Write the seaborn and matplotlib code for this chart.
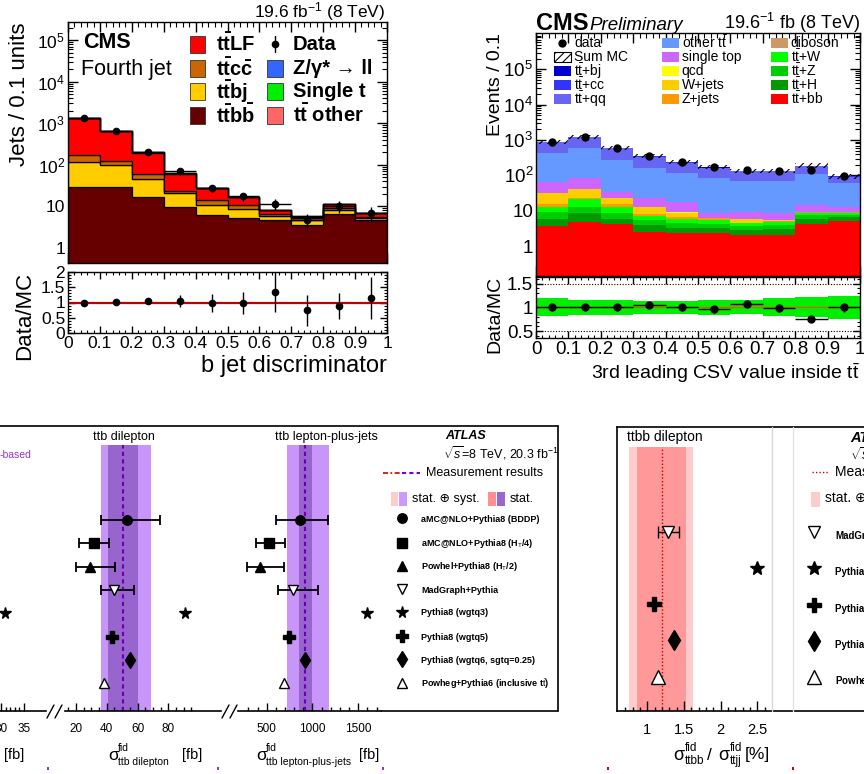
import numpy as np
import pandas as pd
import seaborn as sns
import matplotlib.pyplot as plt
from matplotlib.patches import Rectangle
from matplotlib.ticker import FixedLocator, MultipleLocator, LogLocator, NullFormatter

sns.set_theme(style="ticks")
plt.rcParams['font.family'] = ['Liberation Sans', 'DejaVu Sans']
plt.rcParams.update({
    'mathtext.fontset': 'custom',
    'mathtext.rm': 'Liberation Sans',
    'mathtext.it': 'Liberation Sans:italic',
    'mathtext.bf': 'Liberation Sans:bold',
    'axes.edgecolor': 'black', 'axes.linewidth': 1.0,
    'xtick.color': 'black', 'ytick.color': 'black',
    'text.color': 'black', 'axes.labelcolor': 'black',
    'hatch.linewidth': 0.8,
})

# ---- top left: CMS fourth jet, b jet discriminator ----
bin_edges = [0.0, 0.1, 0.2, 0.3, 0.4, 0.5, 0.6, 0.7, 0.8, 0.9, 1.0]
bin_centers = [0.05, 0.15, 0.25, 0.35, 0.45, 0.55, 0.65, 0.75, 0.85, 0.95]
bin_labels = ['0', '0.1', '0.2', '0.3', '0.4', '0.5', '0.6', '0.7', '0.8', '0.9', '1']

tl_ttbb = [29, 29, 17, 9.6, 6.2, 5.2, 4.6, 3.5, 6.5, 4.8]
tl_ttbj = [91, 68, 29, 11.4, 4.8, 3.6, 1.4, 1.3, 1.5, 0.4]
tl_ttcc = [50, 28, 15, 3.0, 3.5, 2.2, 0.7, 0.4, 1.1, 0.5]
tl_ttlf = [1140, 530, 137, 38, 12.8, 5.6, 1.5, 0.5, 2.3, 1.1]
tl_single_t = [6, 3, 1, 0.4, 0.2, 0.1, 0.05, 0.05, 0.1, 0.05]
tl_tt_other = [9, 4, 1.5, 0.6, 0.3, 0.2, 0.1, 0.05, 0.1, 0.05]
tl_data = [1320, 667, 205, 72, 27.5, 17.4, 11.6, 4.6, 10, 6.9]
tl_data_err = [36, 26, 14, 8.5, 5.2, 4.2, 3.4, 2.1, 3.2, 2.6]
tl_ratio = [0.97, 1.03, 1.04, 1.06, 0.99, 0.99, 1.34, 0.74, 0.88, 1.15]
tl_ratio_err = [0.03, 0.04, 0.06, 0.2, 0.3, 0.37, 0.65, 0.52, 0.42, 0.7]

# ---- top right: CMS preliminary, 3rd leading CSV ----
tr_ttbb = [3.8, 4.9, 4.2, 2.5, 2.4, 2.3, 2.0, 2.05, 4.2, 5.2]
tr_tth = [2.2, 3.5, 1.8, 1.4, 0.9, 0.9, 0.8, 0.95, 1.8, 1.6]
tr_ttz = [3.2, 4.6, 2.8, 1.5, 1.1, 1.0, 0.9, 0.9, 1.5, 0.7]
tr_ttw = [3.2, 8.0, 3.6, 1.6, 1.4, 1.2, 0.7, 1.0, 1.3, 1.3]
tr_diboson = [0.2, 0.3, 0.2, 0.1, 0.1, 0.1, 0.1, 0.1, 0.1, 0.1]
tr_zjets = [2.4, 1.7, 2.4, 0.9, 0.6, 0.6, 0.1, 0.2, 0.1, 0.05]
tr_wjets = [17, 18, 8, 4.4, 2.3, 0.2, 1.2, 0.2, 0.4, 0.2]
tr_qcd = [0.3, 0.3, 0.2, 0.1, 0.1, 0.05, 0.05, 0.05, 0.05, 0.05]
tr_single_top = [34, 45, 11, 10.6, 9.2, 2.5, 3.6, 3.0, 5.1, 3.9]
tr_other_tt = [354, 494, 236, 142, 102, 77, 60, 61, 95, 49]
tr_ttqq = [440, 605, 312, 169, 109, 76, 59.5, 59.5, 70, 28]
tr_ttcc = [25, 35, 18, 10, 7, 5, 4, 4, 6, 3]
tr_ttbj = [15, 20, 10, 6, 4, 3, 2.5, 2.5, 4, 2]
tr_data = [900, 1240, 600, 350, 245, 177, 142, 135, 142, 95]
tr_data_err = [30, 35, 24, 19, 16, 13, 12, 12, 12, 10]
tr_mc_unc = [0.13, 0.12, 0.12, 0.12, 0.13, 0.13, 0.13, 0.14, 0.15, 0.16]
tr_ratio = [1.0, 1.01, 1.01, 1.05, 1.0, 0.96, 1.07, 0.98, 0.76, 1.0]
tr_ratio_err = [0.02, 0.02, 0.03, 0.04, 0.04, 0.05, 0.07, 0.07, 0.06, 0.1]
tr_band = [0.19, 0.16, 0.16, 0.14, 0.14, 0.16, 0.15, 0.19, 0.21, 0.24]

# ---- bottom: ATLAS ttb comparisons ----
atlas_models = ["aMC@NLO+Pythia8 (BDDP)", r"aMC@NLO+Pythia8 (H$_{\rm T}$/4)",
                r"Powhel+Pythia8 (H$_{\rm T}$/2)", "MadGraph+Pythia", "Pythia8 (wgtq3)",
                "Pythia8 (wgtq5)", "Pythia8 (wgtq6, sgtq=0.25)",
                r"Powheg+Pythia6 (inclusive t$\bar{\rm t}$)"]
p1_star = 30.9
dil_pred = [52.9, 31.7, 29.1, 44.7, 90.8, 43.6, 55.1, 38.4]
dil_lo = [36.2, 22.0, 20.0, 36.2]
dil_hi = [74.5, 41.6, 45.5, 57.9]
dil_meas, dil_stat, dil_tot = 50.3, (40.6, 60.1), (36.2, 68.5)
lj_pred = [864, 529, 427, 791, 1592, 747, 918, 692]
lj_lo = [602, 383, 288, 620]
lj_hi = [1173, 700, 689, 1057]
lj_meas, lj_stat, lj_tot = 918, (856, 991), (718, 1184)
frac_models = ["MadGraph+Pythia", "Pythia8 (wgtq3)", "Pythia8 (wgtq5)",
               "Pythia8 (wgtq6, sgtq=0.25)", r"Powheg+Pythia6 (inclusive t$\bar{\rm t}$)"]
frac_pred = [1.287, 2.49, 1.096, 1.364, 1.15]
frac_lo = [1.15]
frac_hi = [1.437]
frac_meas, frac_stat, frac_tot = 1.196, (0.855, 1.528), (0.754, 1.628)

W, H = 864, 774
fig = plt.figure(figsize=(W / 100, H / 100), dpi=100)


def px_axes(l, t, r, b):
    return fig.add_axes([l / W, 1 - b / H, (r - l) / W, (b - t) / H])


def stack_df(order, vals):
    return pd.DataFrame({
        "x": np.tile(bin_centers, len(order)),
        "w": np.concatenate([vals[p] for p in order]),
        "proc": np.repeat(order, len(bin_centers)),
    })


def root_ticks(a, size):
    a.tick_params(which='both', direction='in', top=True, right=True)
    a.tick_params(which='major', length=7, width=1)
    a.tick_params(which='minor', length=3.5, width=0.8)
    a.tick_params(labelsize=size, pad=2)
    a.set_xlabel('')
    a.set_ylabel('')


decade_ticks = [1, 10, 100, 1e3, 1e4, 1e5]
decade_labels = ['1', '10', '$10^{2}$', '$10^{3}$', '$10^{4}$', '$10^{5}$']

# ---------------- top left ----------------
tl_order = ["tt other", "single t", "ttLF", "ttcc", "ttbj", "ttbb"]
tl_vals = {"tt other": tl_tt_other, "single t": tl_single_t, "ttLF": tl_ttlf,
           "ttcc": tl_ttcc, "ttbj": tl_ttbj, "ttbb": tl_ttbb}
tl_colors = {"tt other": "#ff6666", "single t": "#00ee00", "ttLF": "#ff0000",
             "ttcc": "#cc6600", "ttbj": "#ffcc00", "ttbb": "#660000"}

ax = px_axes(68, 22, 387, 263)
sns.histplot(data=stack_df(tl_order, tl_vals), x="x", weights="w", hue="proc",
             hue_order=tl_order, palette=tl_colors, multiple="stack", bins=bin_edges,
             element="step", fill=True, alpha=1, edgecolor="black", linewidth=0.9,
             legend=False, ax=ax)
ax.set_yscale("log")
ax.errorbar(bin_centers, tl_data, yerr=tl_data_err, xerr=0.05, fmt='o', color='black',
            ms=4.5, elinewidth=1, capsize=0, zorder=5)
ax.set_xlim(0, 1)
ax.set_ylim(0.436, 2.74e5)
ax.set_xticks(bin_edges)
ax.xaxis.set_minor_locator(MultipleLocator(0.02))
ax.set_yticks(decade_ticks)
ax.set_yticklabels(decade_labels)
ax.yaxis.set_minor_locator(LogLocator(base=10, subs=np.arange(2, 10) * 1.0, numticks=20))
ax.yaxis.set_minor_formatter(NullFormatter())
root_ticks(ax, 12.5)
ax.tick_params(labelbottom=False)

axr = px_axes(68, 272, 387, 333)
axr.axhline(1, color='#c00000', lw=1.6)
axr.errorbar(bin_centers, tl_ratio, yerr=tl_ratio_err, fmt='o', color='black',
             ms=4.5, elinewidth=1, capsize=0, zorder=5)
axr.set_xlim(0, 1)
axr.set_ylim(0, 2)
axr.set_xticks(bin_edges)
axr.set_xticklabels(bin_labels)
axr.xaxis.set_minor_locator(MultipleLocator(0.02))
axr.set_yticks([0, 0.5, 1, 1.5, 2])
axr.set_yticklabels(['0', '0.5', '1', '1.5', '2'])
axr.yaxis.set_minor_locator(MultipleLocator(0.1))
root_ticks(axr, 12.5)
axr.tick_params(which='major', length=5)
axr.tick_params(which='minor', length=2.5)

# ---------------- top right ----------------
tr_order = ["ttbj", "ttcc", "ttqq", "other tt", "single top", "qcd", "W+jets",
            "Z+jets", "diboson", "ttW", "ttZ", "ttH", "ttbb"]
tr_vals = {"ttbj": tr_ttbj, "ttcc": tr_ttcc, "ttqq": tr_ttqq, "other tt": tr_other_tt,
           "single top": tr_single_top, "qcd": tr_qcd, "W+jets": tr_wjets,
           "Z+jets": tr_zjets, "diboson": tr_diboson, "ttW": tr_ttw, "ttZ": tr_ttz,
           "ttH": tr_tth, "ttbb": tr_ttbb}
tr_colors = {"ttbj": "#0000cc", "ttcc": "#3333ff", "ttqq": "#6666f2",
             "other tt": "#6699ff", "single top": "#cc66ff", "qcd": "#ffff00",
             "W+jets": "#ffcc00", "Z+jets": "#ff9900", "diboson": "#cc9966",
             "ttW": "#00ff00", "ttZ": "#00cc00", "ttH": "#009900", "ttbb": "#ff0000"}

bx = px_axes(536, 33.3, 860, 276)
sns.histplot(data=stack_df(tr_order, tr_vals), x="x", weights="w", hue="proc",
             hue_order=tr_order, palette=tr_colors, multiple="stack", bins=bin_edges,
             element="step", fill=True, alpha=1, linewidth=0, legend=False, ax=bx)
bx.set_yscale("log")
tr_total = np.sum([tr_vals[p] for p in tr_order], axis=0)
unc = np.array(tr_mc_unc)
lo = np.append(tr_total * (1 - unc), tr_total[-1] * (1 - unc[-1]))
hi = np.append(tr_total * (1 + unc), tr_total[-1] * (1 + unc[-1]))
bx.fill_between(bin_edges, lo, hi, step='post', facecolor='none', edgecolor='black',
                hatch='////', linewidth=0, zorder=4)
bx.errorbar(bin_centers, tr_data, yerr=tr_data_err, fmt='o', color='black',
            ms=5, elinewidth=1, capsize=0, zorder=5)
bx.set_xlim(0, 1)
bx.set_ylim(0.1416, 1.05e6)
bx.set_xticks(bin_edges)
bx.xaxis.set_minor_locator(MultipleLocator(0.02))
bx.set_yticks(decade_ticks)
bx.set_yticklabels(decade_labels)
bx.yaxis.set_minor_locator(LogLocator(base=10, subs=np.arange(2, 10) * 1.0, numticks=20))
bx.yaxis.set_minor_formatter(NullFormatter())
root_ticks(bx, 13.5)
bx.tick_params(labelbottom=False)

bxr = px_axes(536, 276.5, 860, 338.3)
band = np.array(tr_band)
bxr.fill_between(bin_edges, np.append(1 - band, 1 - band[-1]), np.append(1 + band, 1 + band[-1]),
                 step='post', color='#00ee00', lw=0, zorder=1)
bxr.axhline(1, color='#cc6600', lw=1, zorder=2)
for yl in (0.5, 1.5):
    bxr.axhline(yl, color='black', ls=(0, (1, 1.5)), lw=0.8, zorder=2)
bxr.errorbar(bin_centers, tr_ratio, yerr=tr_ratio_err, xerr=0.05, fmt='o', color='black',
             ms=5, elinewidth=1, capsize=0, zorder=5)
bxr.set_xlim(0, 1)
bxr.set_ylim(0.346, 1.65)
bxr.set_xticks(bin_edges)
bxr.set_xticklabels(bin_labels)
bxr.xaxis.set_minor_locator(MultipleLocator(0.02))
bxr.set_yticks([0.5, 1, 1.5])
bxr.set_yticklabels(['0.5', '1', '1.5'])
bxr.yaxis.set_minor_locator(MultipleLocator(0.1))
root_ticks(bxr, 13.5)
bxr.tick_params(which='major', length=5)
bxr.tick_params(which='minor', length=2.5)

# ---------------- bottom: ATLAS panels ----------------
row_markers = ['o', 's', '^', 'v', '*', 'P', 'd', '^']
row_filled = [True, True, True, False, True, True, True, False]
row_ms = [6.8, 7.5, 7.5, 7.5, 8.5, 9.0, 8.0, 7.5]
frac_markers = ['v', '*', 'P', 'd', '^']
frac_filled = [False, True, True, True, False]
frac_ms = [9, 10, 10.5, 10, 9.5]


def put_marker(a, x, y, m, filled, ms, mew=1.0):
    a.plot([x], [y], marker=m, ms=ms, ls='none', mec='black', mew=mew,
           mfc='black' if filled else 'white', zorder=6)


def atlas_panel(l, t, r, b, xlim, ylim):
    a = px_axes(l, t, r, b)
    a.set_xlim(*xlim)
    a.set_ylim(*ylim)
    for s in ['top', 'left', 'right']:
        a.spines[s].set_visible(False)
    a.spines['bottom'].set_linewidth(1.2)
    a.set_yticks([])
    a.patch.set_alpha(0)
    return a


def atlas_ticks(a, majors, minors, labels, size, pad):
    a.xaxis.set_major_locator(FixedLocator(majors))
    a.xaxis.set_minor_locator(FixedLocator(minors))
    a.set_xticklabels(labels)
    a.tick_params(axis='x', which='both', direction='in', width=1, labelsize=size, pad=pad)
    a.tick_params(axis='x', which='major', length=6)
    a.tick_params(axis='x', which='minor', length=3)


def meas_band(a, tot, stat, meas, ymax, c_out, c_in, c_line, ls, lw):
    a.axvspan(tot[0], tot[1], ymax=ymax, color=c_out, lw=0, zorder=0)
    a.axvspan(stat[0], stat[1], ymax=ymax, color=c_in, lw=0, zorder=0.5)
    a.axvline(meas, ymax=ymax, color=c_line, ls=ls, lw=lw, zorder=1)


rows8 = list(range(8))
ylim8 = (8.19, -4.03)

p1 = atlas_panel(-60, 426, 46, 711, (16.74, 39.78), ylim8)
put_marker(p1, p1_star, 4, '*', True, 8.5)
atlas_ticks(p1, [30, 35], list(range(20, 36)), ['30', '35'], 8.5, 9)

p2 = atlas_panel(65, 426, 221, 711, (12.86, 114.16), ylim8)
meas_band(p2, dil_tot, dil_stat, dil_meas, 0.933, '#c896f8', '#9864cd', '#6a00b0', (0, (2, 1.6)), 1.5)
p2.errorbar(dil_pred[:4], rows8[:4],
            xerr=[np.subtract(dil_pred[:4], dil_lo), np.subtract(dil_hi, dil_pred[:4])],
            fmt='none', ecolor='black', elinewidth=1.3, capsize=3.5, capthick=1.3, zorder=4)
for v, r, m, f, s in zip(dil_pred, rows8, row_markers, row_filled, row_ms):
    put_marker(p2, v, r, m, f, s)
atlas_ticks(p2, [20, 40, 60, 80], list(range(15, 96, 5)), ['20', '40', '60', '80'], 8.5, 9)

p3 = atlas_panel(238, 426, 381, 711, (186.7, 1747.8), ylim8)
meas_band(p3, lj_tot, lj_stat, lj_meas, 0.933, '#c896f8', '#9864cd', '#6a00b0', (0, (2, 1.6)), 1.5)
p3.errorbar(lj_pred[:4], rows8[:4],
            xerr=[np.subtract(lj_pred[:4], lj_lo), np.subtract(lj_hi, lj_pred[:4])],
            fmt='none', ecolor='black', elinewidth=1.3, capsize=3.5, capthick=1.3, zorder=4)
for v, r, m, f, s in zip(lj_pred, rows8, row_markers, row_filled, row_ms):
    put_marker(p3, v, r, m, f, s)
atlas_ticks(p3, [500, 1000, 1500], list(range(300, 1701, 100)), ['500', '1000', '1500'], 8.5, 9)

rows5 = list(range(5))
p4 = atlas_panel(616.7, 427.3, 771.7, 711, (0.5825, 2.6971), (4.95, -2.88))
p4.spines['left'].set_visible(True)
p4.spines['left'].set_linewidth(1.2)
meas_band(p4, frac_tot, frac_stat, frac_meas, 0.9316, '#ffcccc', '#ff9999', '#cc0000', (0, (1, 1.5)), 1.0)
p4.errorbar(frac_pred[:1], rows5[:1],
            xerr=[np.subtract(frac_pred[:1], frac_lo), np.subtract(frac_hi, frac_pred[:1])],
            fmt='none', ecolor='black', elinewidth=1.0, capsize=4, capthick=1.0, zorder=4)
for v, r, m, f, s in zip(frac_pred, rows5, frac_markers, frac_filled, frac_ms):
    put_marker(p4, v, r, m, f, s)
atlas_ticks(p4, [1, 1.5, 2, 2.5], list(np.round(np.arange(0.7, 2.65, 0.1), 1)),
            ['1', '1.5', '2', '2.5'], 10.5, 9)
p4.tick_params(axis='x', which='major', length=7)

# ---------------- overlay: titles, legends, frames ----------------
ov = fig.add_axes([0, 0, 1, 1], zorder=10)
ov.set_xlim(0, W)
ov.set_ylim(H, 0)
ov.axis('off')

# top left texts
ov.text(385, 12, r'19.6 fb$^{-1}$ (8 TeV)', ha='right', va='center', fontsize=12.5)
ov.text(83, 43, 'CMS', fontweight='bold', fontsize=15.5, va='center')
ov.text(81, 70, 'Fourth jet', fontsize=15.5, va='center')
ov.text(20, 23, 'Jets / 0.1 units', rotation=90, ha='center', va='top', fontsize=16)
ov.text(25, 272, 'Data/MC', rotation=90, ha='center', va='top', fontsize=16)
ov.text(386.7, 366, 'b jet discriminator', ha='right', va='center', fontsize=17)

tl_rows = [44, 68.3, 91.7, 115]
tl_leg1 = [(r'$\mathbf{t\bar{t}}$LF', tl_colors["ttLF"]),
           (r'$\mathbf{t\bar{t}c\bar{c}}$', tl_colors["ttcc"]),
           (r'$\mathbf{t\bar{t}bj}$', tl_colors["ttbj"]),
           (r'$\mathbf{t\bar{t}b\bar{b}}$', tl_colors["ttbb"])]
for y, (lab, c) in zip(tl_rows, tl_leg1):
    ov.add_patch(Rectangle((190, y - 8.5), 15, 17, facecolor=c, edgecolor='#333333', lw=0.6))
    ov.text(216, y, lab, fontsize=14.5, fontweight='bold', va='center')
ov.plot([275, 275], [36, 52], color='black', lw=1)
ov.plot([275], [44], marker='o', ms=4.5, color='black')
ov.text(292.7, tl_rows[0], 'Data', fontsize=14.5, fontweight='bold', va='center')
tl_leg2 = [('Z/γ* → ll', '#3366ff'), ('Single t', tl_colors["single t"]),
           (r'$\mathbf{t\bar{t}}$ other', tl_colors["tt other"])]
for y, (lab, c) in zip(tl_rows[1:], tl_leg2):
    ov.add_patch(Rectangle((266.7, y - 8.5), 16, 17, facecolor=c, edgecolor='#333333', lw=0.6))
    ov.text(292.7, y, lab, fontsize=14.5, fontweight='bold', va='center')

# top right texts
ov.text(536, 23.3, 'CMS', fontweight='bold', fontsize=17, va='center')
ov.text(589, 25, 'Preliminary', fontstyle='italic', fontsize=13.5, va='center')
ov.text(860, 23.3, r'19.6$^{-1}$ fb (8 TeV)', ha='right', va='center', fontsize=13)
ov.text(495, 33, 'Events / 0.1', rotation=90, ha='center', va='top', fontsize=14)
ov.text(495, 276, 'Data/MC', rotation=90, ha='center', va='top', fontsize=14)
ov.text(860, 373.3, r'3rd leading CSV value inside $\mathrm{t\bar{t}}$', ha='right',
        va='center', fontsize=14)

tr_rows = [42.7, 56.7, 70.7, 85, 99]
ov.plot([561.7], [tr_rows[0]], marker='o', ms=5, color='black')
ov.text(574, tr_rows[0], 'data', fontsize=10, va='center')
ov.add_patch(Rectangle((554, tr_rows[1] - 5), 17, 10, facecolor='white', edgecolor='black',
                       lw=0.8, hatch='////'))
ov.text(574, tr_rows[1], 'Sum MC', fontsize=10, va='center')
tr_leg = [(554, 574, [(r'$\mathrm{t\bar{t}}$+bj', 'ttbj'), (r'$\mathrm{t\bar{t}}$+cc', 'ttcc'),
                      (r'$\mathrm{t\bar{t}}$+qq', 'ttqq')], tr_rows[2:]),
          (662, 681.7, [(r'other $\mathrm{t\bar{t}}$', 'other tt'), ('single top', 'single top'),
                        ('qcd', 'qcd'), ('W+jets', 'W+jets'), ('Z+jets', 'Z+jets')], tr_rows),
          (770.7, 790.7, [('diboson', 'diboson'), (r'$\mathrm{t\bar{t}}$+W', 'ttW'),
                          (r'$\mathrm{t\bar{t}}$+Z', 'ttZ'), (r'$\mathrm{t\bar{t}}$+H', 'ttH'),
                          (r'$\mathrm{t\bar{t}}$+bb', 'ttbb')], tr_rows)]
for bx0, tx0, entries, ys in tr_leg:
    for y, (lab, key) in zip(ys, entries):
        ov.add_patch(Rectangle((bx0, y - 5), 17, 10, facecolor=tr_colors[key], lw=0))
        ov.text(tx0, y, lab, fontsize=10, va='center')

# ATLAS frame and axis breaks
ov.plot([0, 558], [426, 426], color='black', lw=1.2)
ov.plot([558, 558], [426, 711], color='black', lw=1.2)
ov.plot([381, 558], [711, 711], color='black', lw=1.2)
for x0 in (47, 55, 222, 230):
    ov.plot([x0, x0 + 7], [718, 705], color='black', lw=1)

ov.text(124, 436.7, 'ttb dilepton', ha='center', va='center', fontsize=9)
ov.text(326.7, 436.7, 'ttb lepton-plus-jets', ha='center', va='center', fontsize=9)
ov.text(31, 455, '-based', ha='right', va='center', fontsize=7.5, color='#9933cc')

# x titles of ATLAS panels
ov.text(14, 755, '[fb]', ha='center', va='center', fontsize=10.5)
for xs, sub, xfb in ((108, 'ttb dilepton', 182), (256.7, 'ttb lepton-plus-jets', 359)):
    ov.text(xs, 755, 'σ', fontsize=12.5, va='center')
    ov.text(xs + 9.5, 748, 'fid', fontsize=7.5, va='center')
    ov.text(xs + 9.5, 762, sub, fontsize=7.5, va='center')
    ov.text(xfb, 755, '[fb]', fontsize=10.5, va='center')
for xs, sub in ((673, 'ttbb'), (718, 'ttjj')):
    ov.text(xs, 755, 'σ', fontsize=13, va='center')
    ov.text(xs + 11.5, 748, 'fid', fontsize=8.5, va='center')
    ov.text(xs + 11.5, 761, sub, fontsize=8.5, va='center')
ov.text(709, 755, '/', ha='center', va='center', fontsize=12.5)
ov.text(745, 755, '[%]', fontsize=12.5, va='center')

# ATLAS legend (left figure)
ov.text(465.8, 436, 'ATLAS', fontweight='bold', fontstyle='italic', ha='center',
        va='center', fontsize=9)
ov.text(443.3, 453.3, r'$\sqrt{s}$=8 TeV, 20.3 fb$^{-1}$', va='center', fontsize=9)
ov.plot([383.3, 400], [472.7, 472.7], color='#cc0000', lw=1.2, ls=(0, (3, 1.5, 1, 1.5)))
ov.plot([401.7, 420], [472.7, 472.7], color='#7700cc', lw=1.5, ls=(0, (2, 1.5)))
ov.text(426, 472.7, 'Measurement results', va='center', fontsize=9)
ov.add_patch(Rectangle((390.7, 491.7), 7.6, 14.3, facecolor='#ffcccc', lw=0))
ov.add_patch(Rectangle((399.3, 491.7), 8, 14.3, facecolor='#cc99ff', lw=0))
ov.text(411.7, 498.7, 'stat. ⊕ syst.', va='center', fontsize=9)
ov.add_patch(Rectangle((487.7, 491.7), 8.3, 14.3, facecolor='#ff9090', lw=0))
ov.add_patch(Rectangle((496.7, 491.7), 8.3, 14.3, facecolor='#9966cc', lw=0))
ov.text(509.3, 498.7, 'stat.', va='center', fontsize=9)
leg_rows8 = [518.3, 542.7, 565.7, 589.3, 611.7, 636, 659.3, 683.3]
for y, lab, m, f, s in zip(leg_rows8, atlas_models, row_markers, row_filled, row_ms):
    put_marker(ov, 401.7, y, m, f, s)
    ov.text(421, y + 1, lab, va='center', fontsize=6.5, fontweight='bold')

# right ATLAS figure frame and legend
ov.plot([616.7, W], [427.3, 427.3], color='black', lw=1.2)
ov.plot([771.7, W], [711, 711], color='black', lw=1.2)
ov.plot([771.7, 771.7], [427.3, 711], color='#d8d8d8', lw=1)
ov.plot([793.3, 793.3], [427.3, 711], color='#e2e2e2', lw=1)
ov.text(664.7, 437.3, 'ttbb dilepton', ha='center', va='center', fontsize=10)
ov.text(850, 438.3, 'ATLAS', fontweight='bold', fontstyle='italic', va='center', fontsize=10.5)
ov.text(850, 455, r'$\sqrt{s}$=8 TeV, 20.3 fb$^{-1}$', va='center', fontsize=10)
ov.plot([811.7, 829.3], [471.7, 471.7], color='#cc0000', lw=1, ls=(0, (1, 1.5)))
ov.text(835, 471.7, 'Measurement results', va='center', fontsize=10)
ov.add_patch(Rectangle((810.7, 491.7), 9.3, 15, facecolor='#ffcccc', lw=0))
ov.text(825, 498.3, 'stat. ⊕ syst.', va='center', fontsize=10)
leg_rows5 = [531.7, 568.3, 605, 640.7, 676.7]
for y, lab, m, f, s in zip(leg_rows5, frac_models, frac_markers, frac_filled, frac_ms):
    put_marker(ov, 814, y, m, f, s)
    ov.text(835, y + 4, lab, va='center', fontsize=7, fontweight='bold')

# small pad corner marks at the bottom
for x0, c in ((47.7, '#9933cc'), (218.3, '#9933cc'), (383, '#9933cc'), (608.3, '#cc0000'), (792.7, '#cc0000')):
    ov.add_patch(Rectangle((x0 - 1, 767), 2, 2.5, facecolor=c, lw=0))

fig.savefig('out.png', dpi=100)
